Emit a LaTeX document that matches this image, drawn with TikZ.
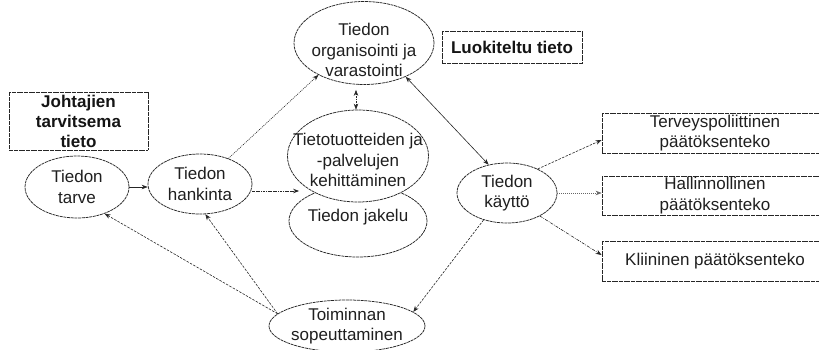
\documentclass[tikz,border=0pt]{standalone}
\usepackage{fontspec}
\setmainfont{Liberation Sans}
\usetikzlibrary{shapes.geometric,arrows.meta,calc}
\begin{document}
\begin{tikzpicture}[x=1pt,y=-1pt,
  txt/.style={font=\fontsize{17}{20.5}\selectfont, text=black!88},
  bold/.style={font=\fontsize{17}{20}\selectfont\bfseries, text=black!92},
  ell/.style={ellipse, draw=black!85, line width=0.75pt, dash pattern=on 3pt off 0.7pt, fill=white, inner sep=0pt},
  lbl/.style={txt, align=center, inner sep=0pt},
  box/.style={rectangle, draw=black!85, line width=0.8pt, dash pattern=on 2pt off 0.4pt, fill=white, inner sep=0pt, align=center, txt},
  con/.style={draw=black!85, line width=0.6pt, -{Stealth[length=6pt,width=4.5pt]}},
  dcon/.style={draw=black!85, line width=0.6pt, {Stealth[length=6pt,width=4.5pt]}-{Stealth[length=6pt,width=4.5pt]}},
  fdash/.style={dash pattern=on 2.5pt off 1.3pt},
  fdot/.style={dash pattern=on 1pt off 1pt},
]
\useasboundingbox (0,0) rectangle (819,349);
\clip (0,0) rectangle (819,349);

% boxes
\node[box, bold, minimum width=139pt, minimum height=58pt] (johto) at (78.5,121) {Johtajien\\tarvitsema\\tieto};
\node[box, bold, minimum width=140pt, minimum height=32pt] (luok) at (512,47) {Luokiteltu tieto};
\node[box, minimum width=226pt, minimum height=40pt] (terv) at (715,133) {Terveyspoliittinen\\päätöksenteko};
\node[box, minimum width=226pt, minimum height=39pt] (hall) at (715,195.5) {Hallinnollinen\\päätöksenteko};
\node[box, minimum width=226pt, minimum height=40pt] (klin) at (715,261) {Kliininen päätöksenteko};

% ellipses
\node[ell, minimum width=104pt, minimum height=62pt, label={[lbl]center:Tiedon\\tarve}] (tarve) at (77,187) {};
\node[ell, minimum width=104pt, minimum height=60pt, label={[lbl]center:Tiedon\\hankinta}] (hank) at (200,184) {};
\node[ell, minimum width=140pt, minimum height=83pt, label={[lbl,yshift=-7pt]center:Tiedon\\organisointi ja\\varastointi}] (org) at (364,43) {};
\node[ell, minimum width=138pt, minimum height=72pt, label={[lbl,yshift=4pt]center:Tiedon jakelu}] (jak) at (358,221) {};
\node[ell, minimum width=141pt, minimum height=92pt, label={[lbl,yshift=-4pt]center:Tietotuotteiden ja\\-palvelujen\\kehittäminen}] (tuot) at (358,156) {};
\node[ell, minimum width=100pt, minimum height=60pt, label={[lbl]center:Tiedon\\käyttö}] (kaytto) at (507,193) {};
\node[ell, minimum width=156pt, minimum height=52pt, label={[lbl]center:Toiminnan\\sopeuttaminen}] (toim) at (347,326) {};

% connectors
\coordinate (hk) at ([yshift=-7pt]hank.east);
\coordinate (hkt) at ($(hk -| tuot.west)+(12,0)$);
\draw[con] (tarve.east) -- (tarve.east -| hank.west);
\draw[con, dash pattern=on 1.2pt off 0.5pt, line width=0.9pt] (hk) -- (hkt);
\draw[con, fdot] (hank.42) -- (org.215);
\draw[dcon, dash pattern=on 1.5pt off 1pt, shorten <=5pt] ([xshift=-8pt]org.south) -- ([xshift=-2pt]tuot.north);
\draw[dcon] (org.-39) -- (kaytto.123);
\draw[con, fdash] (kaytto.38) -- ([yshift=-7pt]terv.west);
\draw[con, fdot, draw=black!60] (kaytto.east) -- (kaytto.east -| hall.west);
\draw[con, dash pattern=on 3pt off 1.2pt on 0.8pt off 1.2pt] (kaytto.-35) -- ([yshift=6pt]klin.west);
\draw[con, fdash] (kaytto.229) -- (toim.12);
\draw[con, fdash] (toim.170) -- (tarve.-44);
\draw[con, fdash] (toim.170) -- (hank.-80);
\end{tikzpicture}
\end{document}
